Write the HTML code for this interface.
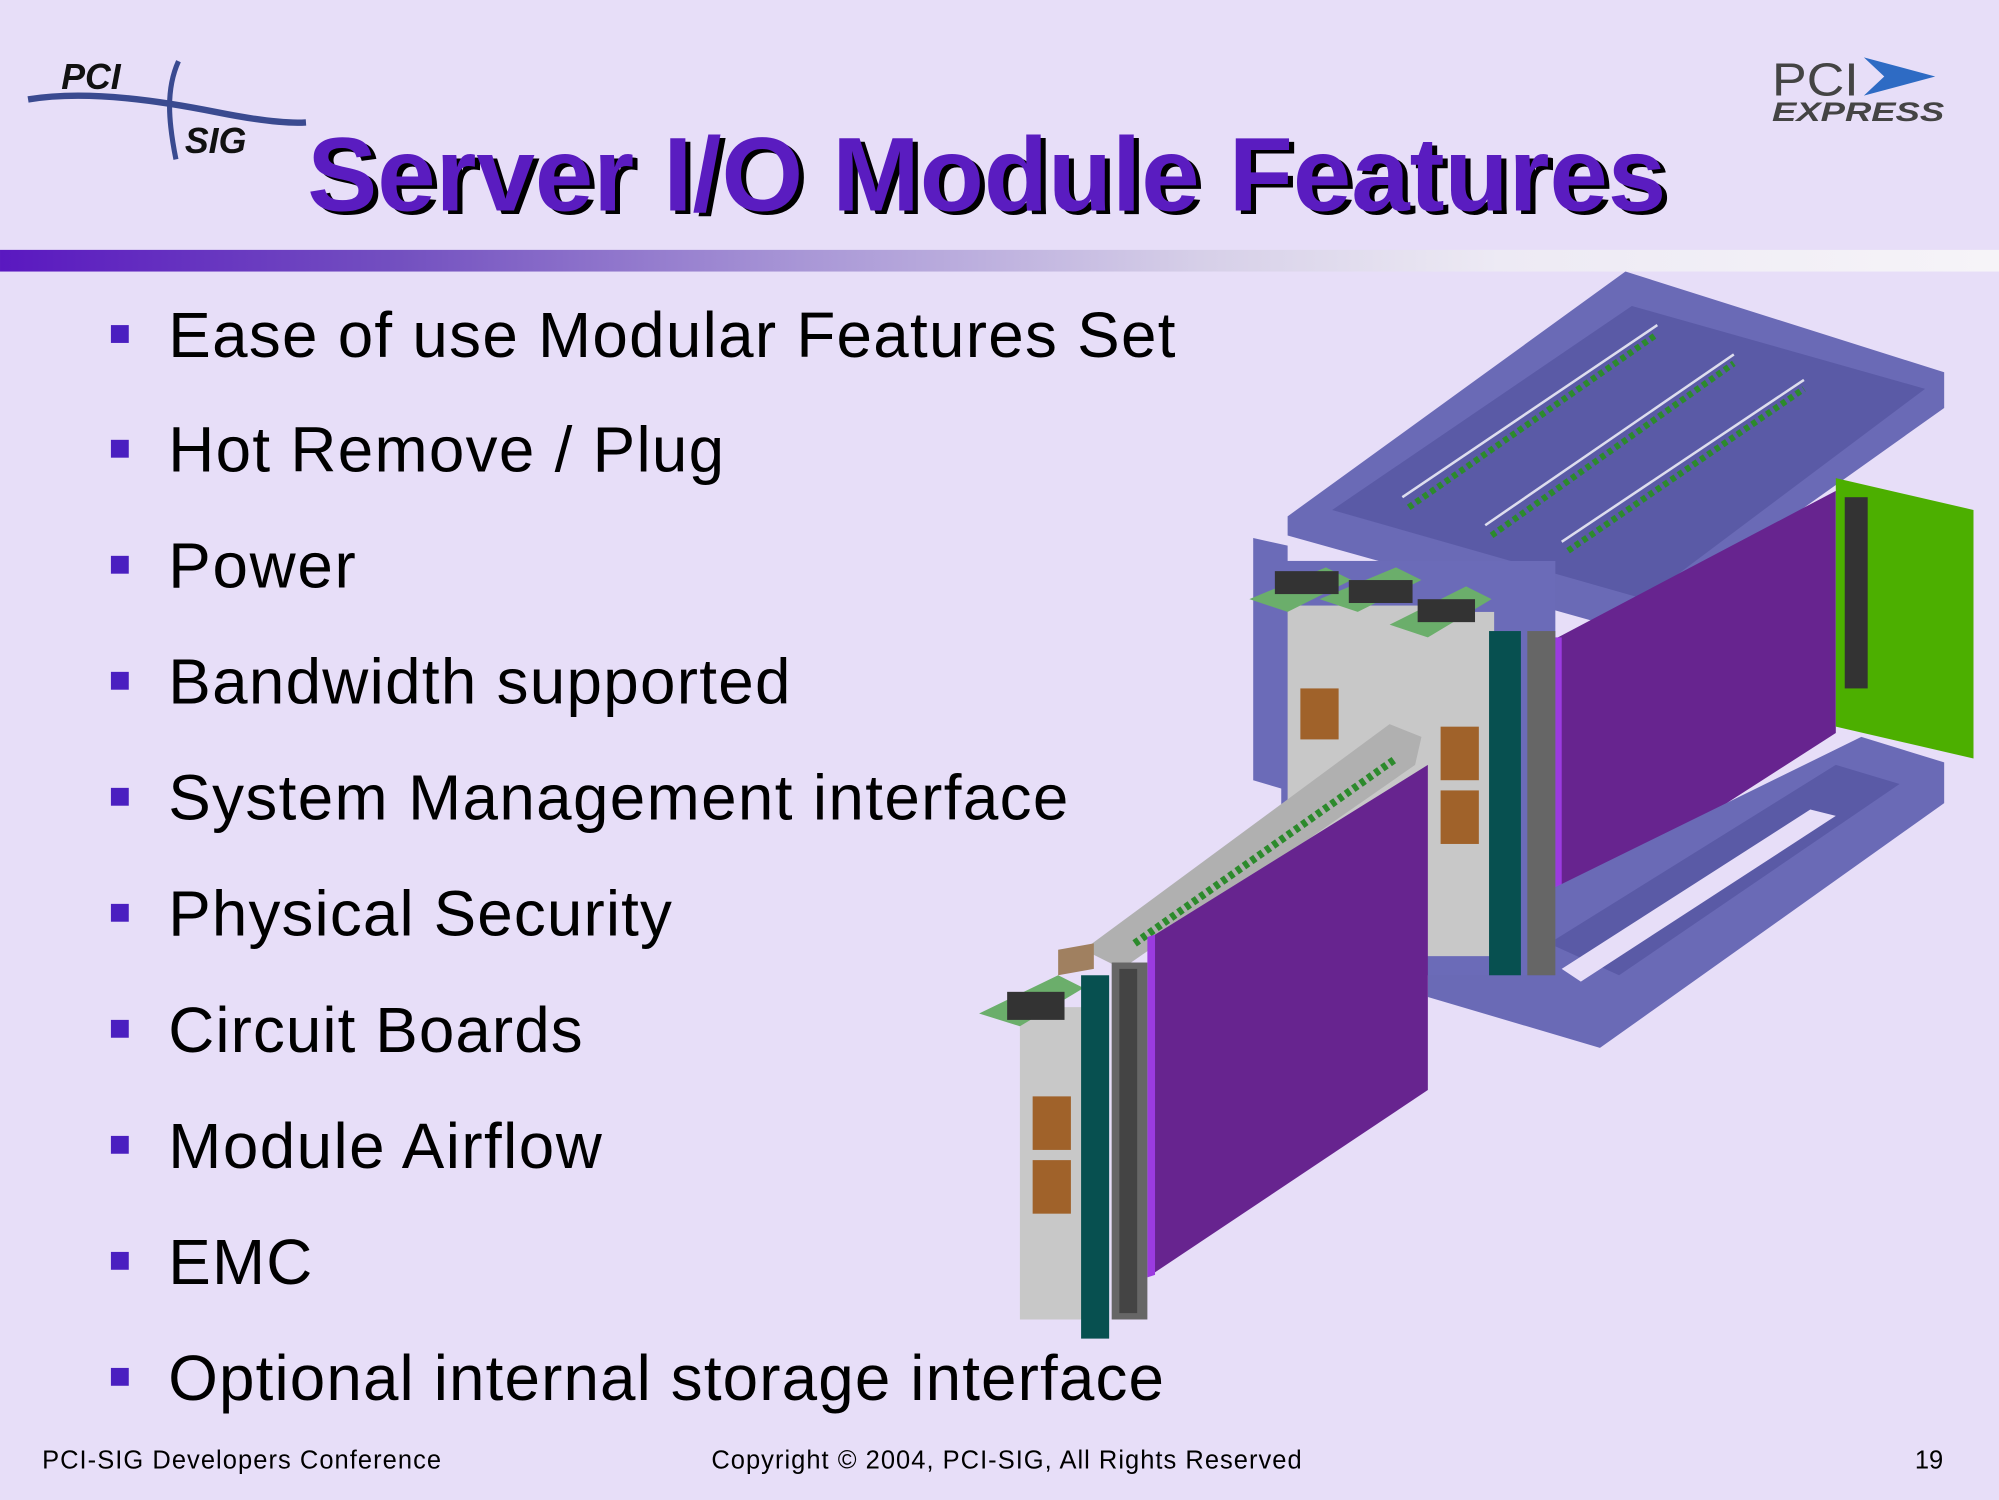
<!DOCTYPE html>
<html><head><meta charset="utf-8"><style>
html,body{margin:0;padding:0;background:#E7DEF8;}
svg{display:block;}
</style></head><body>
<svg width="1999" height="1500" viewBox="0 0 1568 1176.6" xmlns="http://www.w3.org/2000/svg" font-family="Liberation Sans, Arial, sans-serif">
<defs>
<linearGradient id="bar" x1="0" x2="1" y1="0" y2="0">
<stop offset="0" stop-color="#5A18C0"/>
<stop offset="0.2" stop-color="#7350C0"/>
<stop offset="0.4" stop-color="#A896D6"/>
<stop offset="0.6" stop-color="#D6CFE8"/>
<stop offset="0.75" stop-color="#EDEAF4"/>
<stop offset="1" stop-color="#F6F4F8"/>
</linearGradient>
</defs>
<rect width="1568" height="1176.6" fill="#E7DEF8"/>
<!-- PCI-SIG logo -->
<path d="M22,78 C70,70 130,80 170,88 C200,94 225,97 240,96" stroke="#3A4A90" stroke-width="5" fill="none"/>
<path d="M140,48 C130,70 132,95 138,125" stroke="#3A4A90" stroke-width="4" fill="none"/>
<text x="48" y="70" font-size="28" font-weight="bold" font-style="italic" fill="#111">PCI</text>
<text x="145" y="120" font-size="28" font-weight="bold" font-style="italic" fill="#111">SIG</text>
<!-- PCI Express logo -->
<text x="1390" y="75" font-size="36" fill="#444" textLength="68" lengthAdjust="spacingAndGlyphs">PCI</text>
<path d="M1462,45 L1518,60 L1462,75 L1478,60 Z" fill="#2E6BC4"/>
<text x="1390" y="95" font-size="21" font-weight="bold" font-style="italic" fill="#444" textLength="135" lengthAdjust="spacingAndGlyphs">EXPRESS</text>
<!-- Title -->
<text x="245" y="168" font-size="82" font-weight="bold" fill="#000" textLength="1066" lengthAdjust="spacingAndGlyphs">Server I/O Module Features</text>
<text x="241" y="165" font-size="82" font-weight="bold" fill="#5A1CC0" textLength="1066" lengthAdjust="spacingAndGlyphs">Server I/O Module Features</text>
<!-- bar -->
<rect x="0" y="196" width="1568" height="17" fill="url(#bar)"/>
<!-- bullets -->
<g fill="#4A1FC0">
<rect x="87" y="255" width="14" height="14"/><rect x="87" y="345" width="14" height="14"/>
<rect x="87" y="436" width="14" height="14"/><rect x="87" y="527" width="14" height="14"/>
<rect x="87" y="618" width="14" height="14"/><rect x="87" y="709" width="14" height="14"/>
<rect x="87" y="800" width="14" height="14"/><rect x="87" y="891" width="14" height="14"/>
<rect x="87" y="982" width="14" height="14"/><rect x="87" y="1073" width="14" height="14"/>
</g>
<g font-size="50" fill="#000" lengthAdjust="spacingAndGlyphs">
<text x="132" y="280" textLength="790">Ease of use Modular Features Set</text>
<text x="132" y="370" textLength="436">Hot Remove / Plug</text>
<text x="132" y="461" textLength="147">Power</text>
<text x="132" y="552" textLength="488">Bandwidth supported</text>
<text x="132" y="643" textLength="706">System Management interface</text>
<text x="132" y="734" textLength="395">Physical Security</text>
<text x="132" y="825" textLength="325">Circuit Boards</text>
<text x="132" y="916" textLength="340">Module Airflow</text>
<text x="132" y="1007" textLength="113">EMC</text>
<text x="132" y="1098" textLength="781">Optional internal storage interface</text>
</g>
<!-- illustration -->
<polygon points="983,422 1010,428 1010,620 983,612" fill="#6B6BB8"/>
<polygon points="1010,405 1275,213 1525,292 1525,320 1300,480 1285,497 1010,420" fill="#6A6AB6"/>
<polygon points="1045,400 1280,240 1510,305 1290,470" fill="#5A5AA6"/>
<g stroke="#2C8A2C" stroke-width="5" stroke-dasharray="4,3">
<line x1="1105" y1="398" x2="1300" y2="262"/>
<line x1="1170" y1="420" x2="1360" y2="285"/>
<line x1="1230" y1="432" x2="1415" y2="305"/>
</g>
<g stroke="#DDE" stroke-width="2">
<line x1="1100" y1="390" x2="1300" y2="255"/>
<line x1="1165" y1="412" x2="1360" y2="278"/>
<line x1="1225" y1="425" x2="1415" y2="298"/>
</g>
<polygon points="1222,500 1440,385 1440,575 1222,715" fill="#67248F"/>
<polygon points="1215,500 1225,500 1225,715 1215,712" fill="#9B3BE0"/>
<polygon points="1440,375 1548,400 1548,595 1440,570" fill="#4CAF00"/>
<rect x="1447" y="390" width="18" height="150" fill="#333"/>
<polygon points="1120,745 1460,578 1525,598 1525,630 1255,822 1120,782" fill="#6A6AB6"/>
<polygon points="1215,740 1440,600 1490,615 1270,765" fill="#5A5AA6"/>
<polygon points="1225,760 1420,635 1440,640 1240,770" fill="#E7DEF8"/>
<rect x="1005" y="440" width="215" height="325" fill="#6B6BB8"/>
<g>
<rect x="1010" y="475" width="55" height="250" fill="#C8C8C8"/>
<rect x="1063" y="475" width="55" height="250" fill="#C8C8C8"/>
<rect x="1117" y="480" width="55" height="270" fill="#C8C8C8"/>
<rect x="1020" y="540" width="30" height="40" fill="#A0622A"/>
<rect x="1130" y="570" width="30" height="42" fill="#A0622A"/>
<rect x="1130" y="620" width="30" height="42" fill="#A0622A"/>
<polygon points="980,470 1040,445 1060,455 1010,480" fill="#6BAE6B"/>
<polygon points="1035,470 1095,445 1115,455 1065,480" fill="#6BAE6B"/>
<polygon points="1090,490 1150,460 1170,470 1120,500" fill="#6BAE6B"/>
<rect x="1000" y="448" width="50" height="18" fill="#333"/>
<rect x="1058" y="455" width="50" height="18" fill="#333"/>
<rect x="1112" y="470" width="45" height="18" fill="#333"/>
<rect x="1168" y="495" width="25" height="270" fill="#075050"/>
<rect x="1198" y="495" width="22" height="270" fill="#666"/>
</g>
<polygon points="850,745 1090,568 1115,578 1110,600 880,760" fill="#B0B0B0"/>
<line x1="890" y1="740" x2="1095" y2="595" stroke="#2C8A2C" stroke-width="6" stroke-dasharray="4,3"/>
<polygon points="903,735 1120,600 1120,855 903,1000" fill="#67248F"/>
<polygon points="900,735 906,733 906,1000 900,1002" fill="#9B3BE0"/>
<rect x="800" y="790" width="50" height="245" fill="#C8C8C8"/>
<rect x="810" y="860" width="30" height="42" fill="#A0622A"/>
<rect x="810" y="910" width="30" height="42" fill="#A0622A"/>
<polygon points="768,795 830,765 850,775 800,805" fill="#6BAE6B"/>
<rect x="790" y="778" width="45" height="22" fill="#333"/>
<polygon points="830,745 858,740 858,760 830,765" fill="#A08060"/>
<rect x="848" y="765" width="22" height="285" fill="#075050"/>
<rect x="872" y="755" width="28" height="280" fill="#666"/>
<rect x="878" y="760" width="14" height="270" fill="#444"/>
<!-- footer -->
<g font-size="20" fill="#000" lengthAdjust="spacingAndGlyphs">
<text x="33" y="1152" textLength="313">PCI-SIG Developers Conference</text>
<text x="558" y="1152" textLength="463">Copyright © 2004, PCI-SIG, All Rights Reserved</text>
<text x="1502" y="1152">19</text>
</g>
</svg>
</body></html>
